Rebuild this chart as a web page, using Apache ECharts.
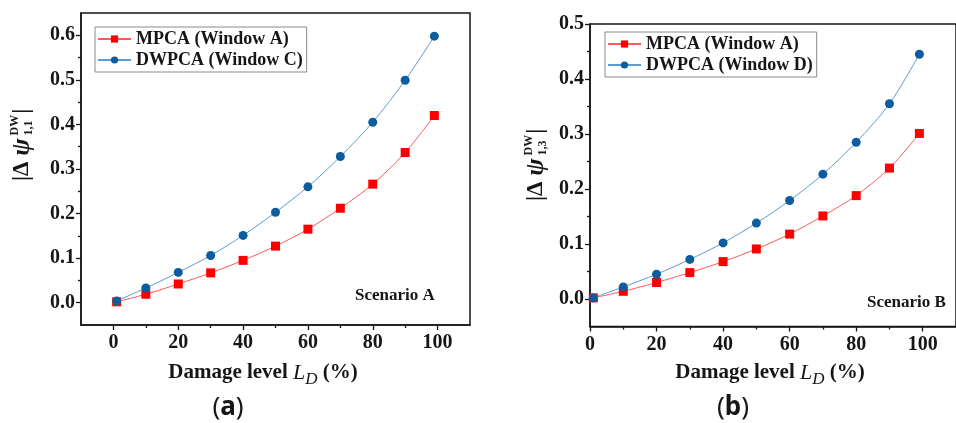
<!DOCTYPE html>
<html>
<head>
<meta charset="utf-8">
<script src="https://cdn.jsdelivr.net/npm/echarts@6/dist/echarts.min.js"></script>
<style>
  html, body { margin: 0; padding: 0; background: #fff; }
  #chart { width: 956px; height: 423px; }
</style>
</head>
<body>
<div id="chart"></div>
<script>
// Damage levels (%) shared by both scenarios
const damageLevels = [1, 10, 20, 30, 40, 50, 60, 70, 80, 90, 99];

// Scenario A: |Δψ^DW_1,1|
const mpcaA_scenA = [0.002, 0.019, 0.042, 0.067, 0.095, 0.127, 0.165, 0.212, 0.266, 0.337, 0.420];
const dwpcaC_scenA = [0.004, 0.033, 0.068, 0.106, 0.151, 0.203, 0.260, 0.328, 0.405, 0.499, 0.598];

// Scenario B: |Δψ^DW_1,3|
const mpcaA_scenB = [0.002, 0.014, 0.030, 0.048, 0.068, 0.091, 0.118, 0.151, 0.188, 0.238, 0.301];
const dwpcaD_scenB = [0.002, 0.022, 0.045, 0.072, 0.102, 0.138, 0.179, 0.227, 0.285, 0.355, 0.445];

// Tick values
const xMajorTicks = [0, 20, 40, 60, 80, 100];
const xMinorTicks = [10, 30, 50, 70, 90];
const yMajorTicksA = [0, 0.1, 0.2, 0.3, 0.4, 0.5, 0.6];
const yMinorTicksA = [0.05, 0.15, 0.25, 0.35, 0.45, 0.55];
const yMajorTicksB = [0, 0.1, 0.2, 0.3, 0.4, 0.5];
const yMinorTicksB = [0.05, 0.15, 0.25, 0.35, 0.45];

const SERIF = '"Liberation Serif", "Times New Roman", serif';
const INK = '#161616';
const RED = '#ff0000';
const RED_LINE = '#ff5a5a';
const BLUE = '#0d5c9e';
const BLUE_LINE = '#5b9bd5';

const toPairs = (xs, ys) => xs.map((x, i) => [x, ys[i]]);

const measureCtx = document.createElement('canvas').getContext('2d');
function textWidth(str, font) { measureCtx.font = font; return measureCtx.measureText(str).width; }

function majorXAxis(gridIndex, min, max) {
  return {
    type: 'value', gridIndex, min, max, position: 'bottom',
    axisLine: { show: true, onZero: false, lineStyle: { color: INK, width: 1.5 } },
    axisTick: { show: true, customValues: xMajorTicks, length: 5, lineStyle: { color: INK, width: 1.3 } },
    axisLabel: { customValues: xMajorTicks, margin: 8, color: INK, fontFamily: SERIF, fontWeight: 'bold', fontSize: 20 },
    splitLine: { show: false }
  };
}
function minorXAxis(gridIndex, min, max) {
  return {
    type: 'value', gridIndex, min, max, position: 'bottom',
    axisLine: { show: false, onZero: false },
    axisTick: { show: true, customValues: xMinorTicks, length: 3, lineStyle: { color: INK, width: 1.3 } },
    axisLabel: { show: false },
    splitLine: { show: false }
  };
}
function majorYAxis(gridIndex, min, max, ticks) {
  return {
    type: 'value', gridIndex, min, max, position: 'left',
    axisLine: { show: true, onZero: false, lineStyle: { color: INK, width: 1.5 } },
    axisTick: { show: true, customValues: ticks, length: 5, lineStyle: { color: INK, width: 1.3 } },
    axisLabel: { customValues: ticks, margin: 6, color: INK, fontFamily: SERIF, fontWeight: 'bold', fontSize: 20,
      formatter: v => v.toFixed(1) },
    splitLine: { show: false }
  };
}
function minorYAxis(gridIndex, min, max, ticks) {
  return {
    type: 'value', gridIndex, min, max, position: 'left',
    axisLine: { show: false, onZero: false },
    axisTick: { show: true, customValues: ticks, length: 3, lineStyle: { color: INK, width: 1.3 } },
    axisLabel: { show: false },
    splitLine: { show: false }
  };
}

function lineSeries(name, xIdx, yIdx, data, symbol, color, lineColor, size) {
  return {
    name, type: 'line', xAxisIndex: xIdx, yAxisIndex: yIdx,
    data, smooth: 0.3, symbol, symbolSize: size, showSymbol: true,
    itemStyle: { color, borderWidth: 0 },
    lineStyle: { color: lineColor, width: 1 },
    emphasis: { disabled: true },
    z: name.startsWith('DWPCA') ? 3 : 2
  };
}

function legendFor(names, left, top) {
  return {
    data: names, orient: 'vertical', left, top,
    padding: [3, 4, 3, 2], itemGap: 3, itemWidth: 33, itemHeight: 9, itemTextGap: 5,
    borderColor: '#8a8a8a', borderWidth: 1, backgroundColor: '#fff',
    selectedMode: false,
    textStyle: { fontFamily: SERIF, fontWeight: 'bold', fontSize: 18, color: INK }
  };
}

// Rotated y-axis title: |Δψ with stacked DW superscript and index subscript
function yTitle(cx, bottom, sub) {
  const fMain = 'bold 23px ' + SERIF;
  const fPsi = 'italic bold 26px ' + SERIF;
  const fScript = 'bold 12px ' + SERIF;
  const w1 = textWidth('|\u0394 ', fMain);
  const w2 = textWidth('\u03C8', fPsi);
  const ws = Math.max(textWidth('DW', fScript), textWidth(sub, fScript));
  const xs = w1 + w2 + 3;
  const base = { fill: INK, verticalAlign: 'middle', align: 'left' };
  return {
    type: 'group', x: cx, y: bottom, rotation: Math.PI / 2,
    children: [
      { type: 'text', x: 0, y: 0, style: Object.assign({ text: '|\u0394 ', font: fMain }, base) },
      { type: 'text', x: w1, y: 0, style: Object.assign({ text: '\u03C8', font: fPsi }, base) },
      { type: 'text', x: xs, y: -7, style: Object.assign({ text: 'DW', font: fScript }, base) },
      { type: 'text', x: xs, y: 7, style: Object.assign({ text: sub, font: fScript }, base) },
      { type: 'text', x: xs + ws + 1, y: 0, style: Object.assign({ text: '|', font: fMain }, base) }
    ]
  };
}

function xTitle(cx, cy) {
  return {
    type: 'text', x: cx, y: cy,
    style: {
      text: '{b|Damage level }{i|L}{s|D}{b| (%)}',
      align: 'center', verticalAlign: 'middle', fill: INK,
      rich: {
        b: { fontFamily: SERIF, fontWeight: 'bold', fontSize: 21, lineHeight: 30, verticalAlign: 'middle', fill: INK },
        i: { fontFamily: SERIF, fontStyle: 'italic', fontSize: 22, lineHeight: 30, verticalAlign: 'middle', fill: INK },
        s: { fontFamily: SERIF, fontStyle: 'italic', fontSize: 17, lineHeight: 16, verticalAlign: 'bottom', fill: INK }
      }
    }
  };
}

function panelLabel(cx, cy, letter) {
  return {
    type: 'text', x: cx, y: cy,
    style: {
      text: '{p|(}{l|' + letter + '}{p|)}',
      align: 'center', verticalAlign: 'middle',
      rich: {
        p: { fontFamily: '"Noto Sans", sans-serif', fontSize: 26, fill: INK },
        l: { fontFamily: '"Noto Sans", sans-serif', fontWeight: 'bold', fontSize: 26, fill: INK }
      }
    }
  };
}

function note(x, y, txt) {
  return {
    type: 'text', x, y,
    style: { text: txt, font: 'bold 17px ' + SERIF, fill: INK, align: 'left', verticalAlign: 'middle' }
  };
}

const chart = echarts.init(document.getElementById('chart'), null, { renderer: 'canvas' });

chart.setOption({
  animation: false,
  backgroundColor: '#fff',
  grid: [
    { left: 81, top: 13, width: 389, height: 312, show: true, borderColor: INK, borderWidth: 1.5 },
    { left: 590, top: 24, width: 375, height: 302.5, show: true, borderColor: INK, borderWidth: 1.5 }
  ],
  xAxis: [
    majorXAxis(0, -10, 110), minorXAxis(0, -10, 110),
    majorXAxis(1, 0, 110), minorXAxis(1, 0, 110)
  ],
  yAxis: [
    majorYAxis(0, -0.05, 0.65, yMajorTicksA), minorYAxis(0, -0.05, 0.65, yMinorTicksA),
    majorYAxis(1, -0.05, 0.5, yMajorTicksB), minorYAxis(1, -0.05, 0.5, yMinorTicksB)
  ],
  legend: [
    legendFor(['MPCA (Window A)', 'DWPCA (Window C)'], 95, 27),
    legendFor(['MPCA (Window A)', 'DWPCA (Window D)'], 605, 32)
  ],
  series: [
    lineSeries('MPCA (Window A)', 0, 0, toPairs(damageLevels, mpcaA_scenA), 'rect', RED, RED_LINE, 9),
    lineSeries('DWPCA (Window C)', 0, 0, toPairs(damageLevels, dwpcaC_scenA), 'circle', BLUE, BLUE_LINE, 9),
    lineSeries('MPCA (Window A)', 2, 2, toPairs(damageLevels, mpcaA_scenB), 'rect', RED, RED_LINE, 9),
    lineSeries('DWPCA (Window D)', 2, 2, toPairs(damageLevels, dwpcaD_scenB), 'circle', BLUE, BLUE_LINE, 9)
  ],
  graphic: [
    yTitle(22, 181, '1,1'),
    yTitle(536, 201, '1,3'),
    xTitle(263, 373),
    xTitle(770, 373),
    panelLabel(228, 408, 'a'),
    panelLabel(733, 408, 'b'),
    note(355, 296, 'Scenario A'),
    note(867, 303, 'Scenario B')
  ]
});
</script>
</body>
</html>
